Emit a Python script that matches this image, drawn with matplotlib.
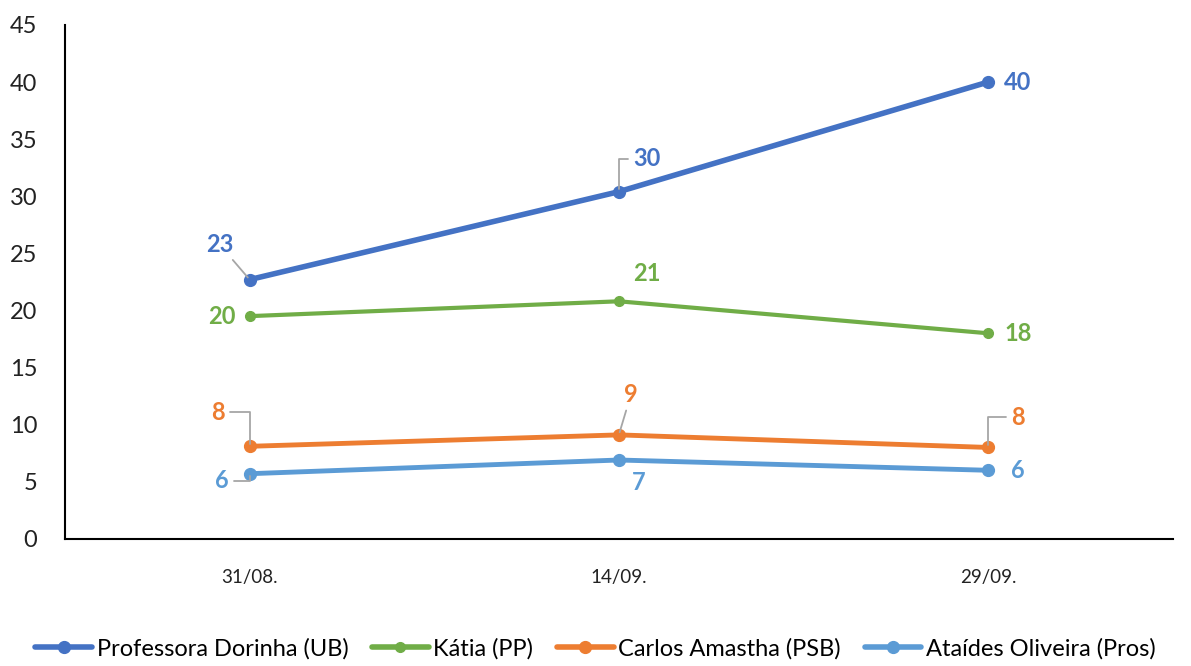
import numpy as np
import matplotlib.pyplot as plt

dates = ['31/08.', '14/09.', '29/09.']
dorinha = [22.7, 30.4, 40.0]
katia = [19.5, 20.8, 18.0]
amastha = [8.1, 9.1, 8.0]
ataides = [5.7, 6.9, 6.0]

names = ['Professora Dorinha (UB)', 'Kátia (PP)', 'Carlos Amastha (PSB)', 'Ataídes Oliveira (Pros)']
colors = ['#4472C4', '#70AD47', '#ED7D31', '#5B9BD5']
widths = [4.0, 3.0, 3.5, 3.5]

# label offsets in pixels (dx, dy) and leader style for each point
offsets = [
    [(-30, 35, 'straight'), (28, 33, 'elbow'), (30, 0, None)],
    [(-28, 0, None), (28, 28, None), (30, 0, None)],
    [(-32, 34, 'elbow_r'), (12, 40, 'straight'), (30, 30, 'elbow')],
    [(-28, -7, 'elbow_r'), (20, -22, None), (30, 0, None)],
]

plt.rcParams['font.family'] = ['Lato', 'DejaVu Sans']

fig = plt.figure(figsize=(11.91, 6.66), dpi=100)
ax = fig.add_axes([0.0546, 0.191, 0.93, 0.7715])

x = np.arange(len(dates))
series = [dorinha, katia, amastha, ataides]
for vals, name, c, lw, offs in zip(series, names, colors, widths, offsets):
    ax.plot(x, vals, color=c, lw=lw, marker='o', ms=8.5 if lw > 3 else 7, label=name,
            solid_capstyle='round')
    for xi, v, (dx, dy, lead) in zip(x, vals, offs):
        arrow = None
        if lead == 'straight':
            arrow = dict(arrowstyle='-', color='#A6A6A6', lw=1.3, shrinkA=1, shrinkB=2)
        elif lead == 'elbow':
            arrow = dict(arrowstyle='-', color='#A6A6A6', lw=1.3, shrinkA=2, shrinkB=2,
                         relpos=(0, 0.5),
                         connectionstyle='angle,angleA=0,angleB=90,rad=0')
        elif lead == 'elbow_r':
            arrow = dict(arrowstyle='-', color='#A6A6A6', lw=1.3, shrinkA=2, shrinkB=2,
                         relpos=(1, 0.5),
                         connectionstyle='angle,angleA=0,angleB=90,rad=0')
        ax.annotate(f'{v:.0f}', xy=(xi, v), xytext=(dx, dy), textcoords='offset pixels',
                    ha='center', va='center', fontsize=17, fontweight='bold', color=c,
                    arrowprops=arrow)

ax.set_xlim(-0.5, 2.5)
ax.set_ylim(0, 45)
ax.set_yticks(range(0, 46, 5))
ax.set_xticks(x)
ax.set_xticklabels(dates)
ax.tick_params(axis='y', length=0, pad=20, labelsize=17, colors='#222222')
ax.tick_params(axis='x', length=0, pad=22, labelsize=13.5, colors='#222222')
for s in ['top', 'right']:
    ax.spines[s].set_visible(False)
ax.spines['left'].set_linewidth(1.5)
ax.spines['bottom'].set_linewidth(1.5)

leg = fig.legend(loc='lower center', ncol=4, frameon=False, fontsize=17,
                 bbox_to_anchor=(0.5, -0.022), handlelength=2.4, handletextpad=0.2,
                 columnspacing=1.0)
for h in leg.get_lines():
    h.set_linewidth(4)

fig.savefig('out.png', dpi=100)
